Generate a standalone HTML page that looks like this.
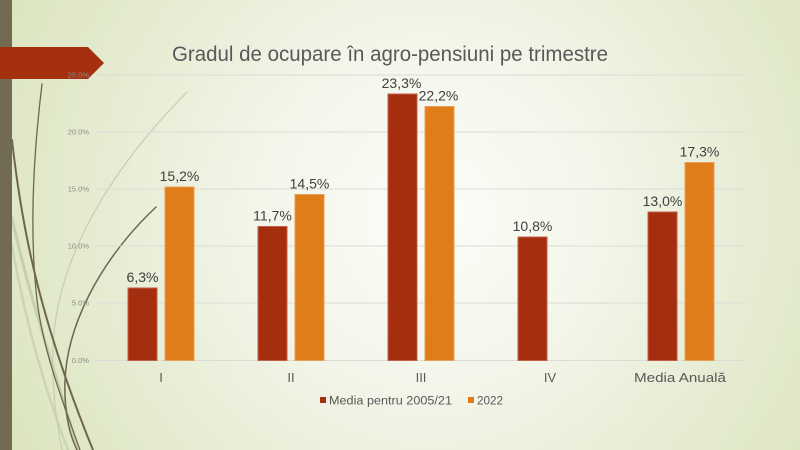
<!DOCTYPE html>
<html><head><meta charset="utf-8"><style>
html,body{margin:0;padding:0;width:800px;height:450px;overflow:hidden;}
svg{display:block;}
text{font-family:"Liberation Sans",sans-serif;}
</style></head><body>
<svg width="800" height="450" viewBox="0 0 800 450" xmlns="http://www.w3.org/2000/svg">
<defs>
<radialGradient id="bg" gradientUnits="userSpaceOnUse" cx="430" cy="215" r="470">
<stop offset="0" stop-color="#fcfdf9"/>
<stop offset="0.35" stop-color="#f3f6ea"/>
<stop offset="0.7" stop-color="#e6ecd3"/>
<stop offset="1" stop-color="#dce5bf"/>
</radialGradient>
</defs>
<rect x="0" y="0" width="800" height="450" fill="url(#bg)"/>
<!-- decorative curves -->
<g fill="none" stroke-linecap="round">
<path d="M12,218 C30,300 55,370 78,450" stroke="#c8cfae" stroke-width="3"/>
<path d="M12,245 C25,320 45,390 68,450" stroke="#cdd4b5" stroke-width="2.5"/>
<path d="M187,92 C110,170 55,260 53,350 C52,390 56,420 62,450" stroke="#c9cbb4" stroke-width="1.2"/>
<path d="M42,84 C34,150 29,230 37,300 C43,350 62,400 80,450" stroke="#6f6650" stroke-width="1.3"/>
<path d="M12,140 C22,230 40,320 93,450" stroke="#6f6650" stroke-width="2"/>
<path d="M156,207 C100,260 62,330 65,395 C66,420 70,435 77,450" stroke="#6f6650" stroke-width="1.5"/>
</g>
<rect x="0" y="0" width="12" height="450" fill="#736a53"/>
<polygon points="0,47 88,47 104,63 88,79 0,79" fill="#a5300f"/>
<!-- gridlines -->
<g stroke="#dcdcd6" stroke-width="1">
<line x1="96" y1="75" x2="745" y2="75"/>
<line x1="96" y1="132" x2="745" y2="132"/>
<line x1="96" y1="189" x2="745" y2="189"/>
<line x1="96" y1="246" x2="745" y2="246"/>
<line x1="96" y1="303" x2="745" y2="303"/>
<line x1="96" y1="360.5" x2="745" y2="360.5"/>
</g>
<!-- tick labels -->
<g font-size="7.5" fill="#8a8a8a" text-anchor="end">
<text x="89" y="77.5">25.0%</text>
<text x="89" y="134.5">20.0%</text>
<text x="89" y="191.5">15.0%</text>
<text x="89" y="248.5">10.0%</text>
<text x="89" y="305.5">5.0%</text>
<text x="89" y="363">0.0%</text>
</g>
<!-- title -->
<text x="172" y="61" font-size="21" fill="#595959" textLength="436" lengthAdjust="spacingAndGlyphs">Gradul de ocupare în agro-pensiuni pe trimestre</text>
<!-- bars -->
<g stroke-width="1">
<rect x="128" y="288" width="29" height="72.5" fill="#a52e0f" stroke="#c0604a"/>
<rect x="165" y="187" width="29" height="173.5" fill="#de7d19" stroke="#e99d55"/>
<rect x="258" y="226.5" width="29" height="134" fill="#a52e0f" stroke="#c0604a"/>
<rect x="295" y="194.5" width="29" height="166" fill="#de7d19" stroke="#e99d55"/>
<rect x="388" y="94" width="29" height="266.5" fill="#a52e0f" stroke="#c0604a"/>
<rect x="425" y="106.5" width="29" height="254" fill="#de7d19" stroke="#e99d55"/>
<rect x="518" y="237" width="29" height="123.5" fill="#a52e0f" stroke="#c0604a"/>
<rect x="648" y="212" width="29" height="148.5" fill="#a52e0f" stroke="#c0604a"/>
<rect x="685" y="162.5" width="29" height="198" fill="#de7d19" stroke="#e99d55"/>
</g>
<!-- value labels -->
<g font-size="14" fill="#404040" text-anchor="middle">
<text x="142.5" y="282">6,3%</text>
<text x="179.5" y="181">15,2%</text>
<text x="272.5" y="220.5">11,7%</text>
<text x="309.5" y="188.5">14,5%</text>
<text x="401.5" y="88">23,3%</text>
<text x="438.5" y="100.5">22,2%</text>
<text x="532.5" y="231">10,8%</text>
<text x="662.5" y="206">13,0%</text>
<text x="699.5" y="156.5">17,3%</text>
</g>
<!-- category labels -->
<g font-size="13" fill="#595959" text-anchor="middle">
<text x="161" y="382">I</text>
<text x="291" y="382">II</text>
<text x="421" y="382">III</text>
<text x="550" y="382">IV</text>
<text x="680" y="382" textLength="92" lengthAdjust="spacingAndGlyphs">Media Anuală</text>
</g>
<!-- legend -->
<rect x="320" y="397" width="6" height="6" fill="#a52e0f"/>
<text x="329" y="404.5" font-size="11.5" fill="#595959" textLength="123" lengthAdjust="spacingAndGlyphs">Media pentru 2005/21</text>
<rect x="468" y="397" width="6" height="6" fill="#de7d19"/>
<text x="477" y="404.5" font-size="11.5" fill="#595959" textLength="26" lengthAdjust="spacingAndGlyphs">2022</text>
</svg>
</body></html>
